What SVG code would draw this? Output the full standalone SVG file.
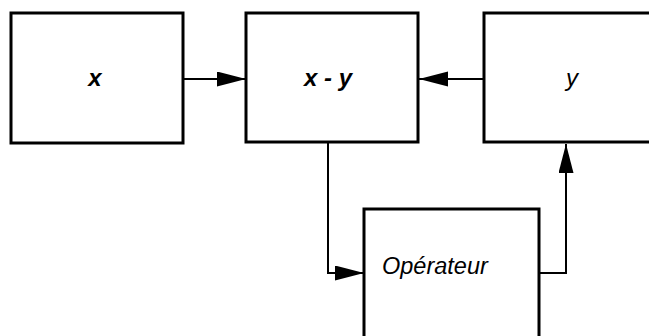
<svg xmlns="http://www.w3.org/2000/svg" width="649" height="336" viewBox="0 0 649 336">
<defs>
<style>
.box{fill:#fff;stroke:#000;stroke-width:3}
.con{fill:none;stroke:#000;stroke-width:2}
.lbl{font-family:"Liberation Sans",Arial,sans-serif;font-style:italic;font-size:24px;fill:#000}
.b{font-weight:bold}
.op{font-size:23.5px}
</style>
<marker id="ah" markerUnits="userSpaceOnUse" markerWidth="30" markerHeight="16" refX="29" refY="7.5" orient="auto">
<path d="M0,0 L29,7.5 L0,15 Z" fill="#000"/>
</marker>
</defs>
<rect width="649" height="336" fill="#fff"/>
<g id="connectors">
<line class="con" x1="183" y1="79" x2="246" y2="79" marker-end="url(#ah)"/>
<line class="con" x1="484" y1="79" x2="419" y2="79" marker-end="url(#ah)"/>
<polyline class="con" points="328,142 328,273 364,273" marker-end="url(#ah)"/>
<polyline class="con" points="539,273 566,273 566,144" marker-end="url(#ah)"/>
</g>
<g id="node-x">
<rect class="box" x="11" y="13" width="172" height="130"/>
<text class="lbl b" x="95" y="86" text-anchor="middle">x</text>
</g>
<g id="node-xy">
<rect class="box" x="246" y="13" width="172" height="129"/>
<text class="lbl b" x="328" y="86" text-anchor="middle">x - y</text>
</g>
<g id="node-y">
<rect class="box" x="484" y="13" width="180" height="129"/>
<text class="lbl" x="572" y="86" text-anchor="middle">y</text>
</g>
<g id="node-op">
<rect class="box" x="364" y="209" width="175" height="140"/>
<text class="lbl op" x="382" y="274">Opérateur</text>
</g>
</svg>
